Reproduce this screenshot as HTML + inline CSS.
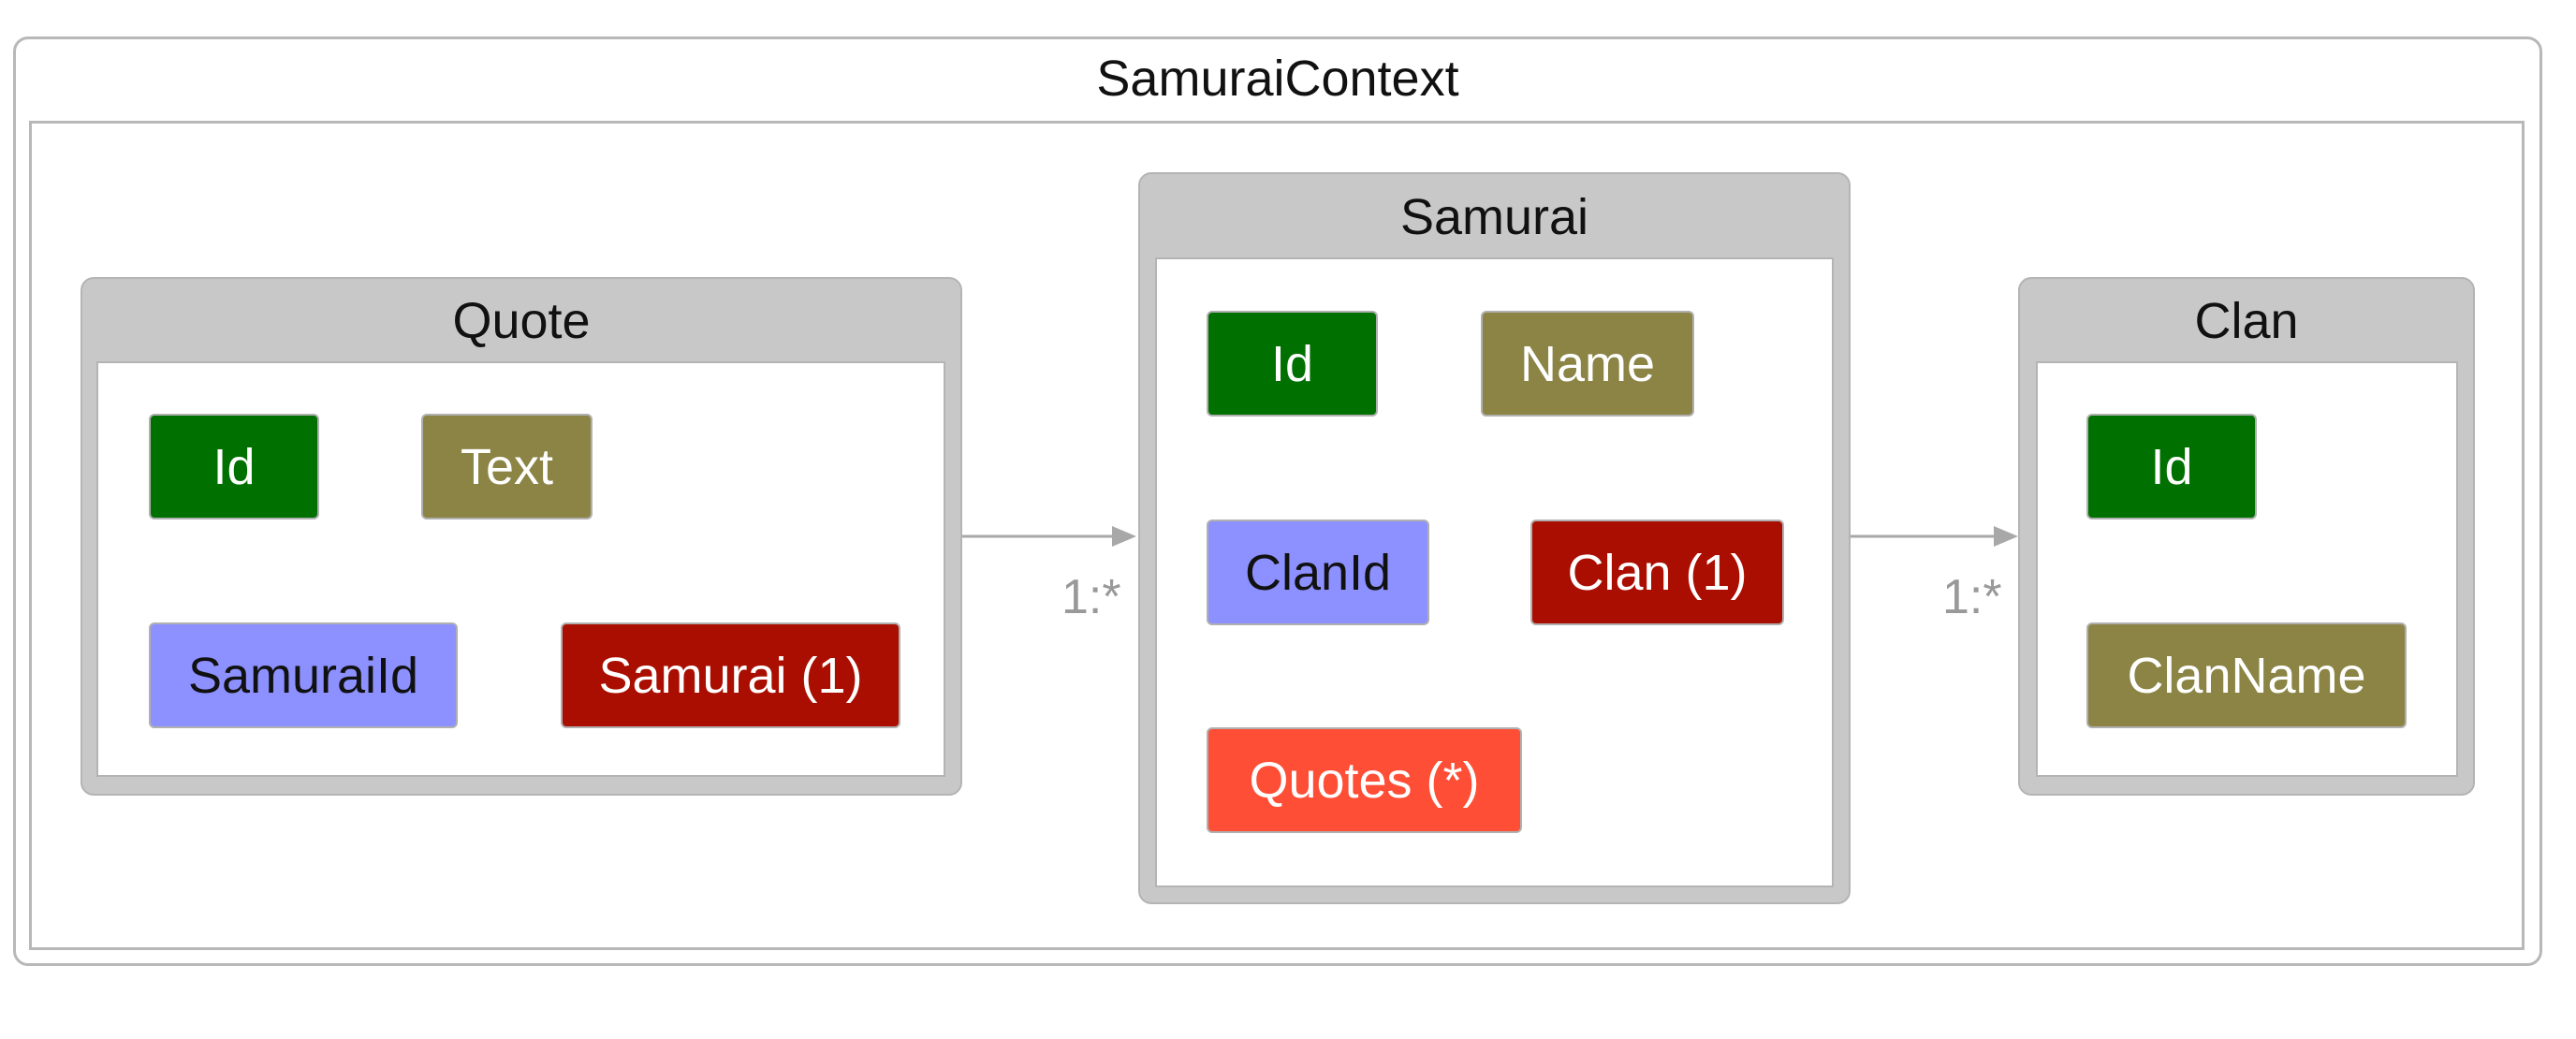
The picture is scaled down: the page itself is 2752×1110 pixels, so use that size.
<!DOCTYPE html>
<html><head><meta charset="utf-8"><style>
body{margin:0;width:2752px;height:1110px;background:#fff;position:relative;overflow:hidden;font-family:"Liberation Sans",sans-serif}
.a{position:absolute;box-sizing:border-box}
.ent{background:#c8c8c8;border:2px solid #b4b4b4;border-radius:14px}
.inn{background:#fff;border:2px solid #b4b4b4}
.t{position:absolute;text-align:center;font-size:54px;color:#111;line-height:1}
.f{position:absolute;box-sizing:border-box;border:2px solid #b0b0b0;border-radius:6px;display:flex;align-items:center;justify-content:center;font-size:54px;color:#fff}
.lbl{position:absolute;font-size:52px;color:#999}
</style></head><body>
<div class="a" style="left:14px;top:39px;width:2702px;height:993px;border:3px solid #b8b8b8;border-radius:16px"></div>
<div class="t" style="left:14px;width:2702px;top:57px">SamuraiContext</div>
<div class="a" style="left:31px;top:129px;width:2666px;height:886px;border:3px solid #b8b8b8"></div>

<!-- Quote -->
<div class="a ent" style="left:86px;top:296px;width:942px;height:554px"></div>
<div class="t" style="left:86px;width:942px;top:316px">Quote</div>
<div class="a inn" style="left:103px;top:386px;width:907px;height:444px"></div>
<div class="f" style="left:159px;top:442px;width:182px;height:113px;background:#007000">Id</div>
<div class="f" style="left:450px;top:442px;width:183px;height:113px;background:#8b8445">Text</div>
<div class="f" style="left:159px;top:665px;width:330px;height:113px;background:#8c91ff;color:#111">SamuraiId</div>
<div class="f" style="left:599px;top:665px;width:363px;height:113px;background:#aa0e00">Samurai (1)</div>

<!-- Samurai -->
<div class="a ent" style="left:1216px;top:184px;width:761px;height:782px"></div>
<div class="t" style="left:1216px;width:761px;top:205px">Samurai</div>
<div class="a inn" style="left:1234px;top:275px;width:725px;height:673px"></div>
<div class="f" style="left:1289px;top:332px;width:183px;height:113px;background:#007000">Id</div>
<div class="f" style="left:1582px;top:332px;width:228px;height:113px;background:#8b8445">Name</div>
<div class="f" style="left:1289px;top:555px;width:238px;height:113px;background:#8c91ff;color:#111">ClanId</div>
<div class="f" style="left:1635px;top:555px;width:271px;height:113px;background:#aa0e00">Clan (1)</div>
<div class="f" style="left:1289px;top:777px;width:337px;height:113px;background:#ff4e36">Quotes (*)</div>

<!-- Clan -->
<div class="a ent" style="left:2156px;top:296px;width:488px;height:554px"></div>
<div class="t" style="left:2156px;width:488px;top:316px">Clan</div>
<div class="a inn" style="left:2175px;top:386px;width:451px;height:444px"></div>
<div class="f" style="left:2229px;top:442px;width:182px;height:113px;background:#007000">Id</div>
<div class="f" style="left:2229px;top:665px;width:342px;height:113px;background:#8b8445">ClanName</div>

<svg class="a" style="left:0;top:0" width="2752" height="1110">
<line x1="1028" y1="573" x2="1192" y2="573" stroke="#a8a8a8" stroke-width="3"/>
<polygon points="1214,573 1188,562 1188,584" fill="#a8a8a8"/>
<line x1="1977" y1="573" x2="2134" y2="573" stroke="#a8a8a8" stroke-width="3"/>
<polygon points="2156,573 2130,562 2130,584" fill="#a8a8a8"/>
</svg>
<div class="lbl" style="left:1134px;top:608px">1:*</div>
<div class="lbl" style="left:2075px;top:608px">1:*</div>
</body></html>
